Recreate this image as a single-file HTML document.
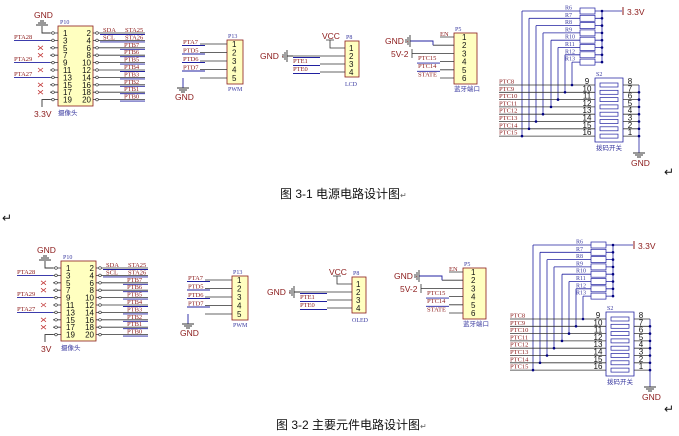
<!DOCTYPE html>
<html><head><meta charset="utf-8"><style>
html,body{margin:0;padding:0;background:#fff;width:679px;height:436px;overflow:hidden}
svg{display:block}
.s{font-family:"Liberation Serif",serif;font-size:6.5px;fill:#8b1a1a}
.n{font-family:"Liberation Sans",sans-serif;font-size:8px;fill:#111}
.d{font-family:"Liberation Serif",serif;font-size:6px;fill:#3a3aa0}
.r{font-family:"Liberation Sans",sans-serif;font-size:8.5px;fill:#8b1a1a}
.c{font-family:"Liberation Sans","Noto Sans CJK SC",sans-serif;font-size:6.5px;fill:#3a3aa0}
.cap{font-family:"Liberation Sans","Noto Sans CJK SC",sans-serif;font-size:12px;fill:#111}
</style></head><body>
<svg width="679" height="436" viewBox="0 0 679 436" xmlns="http://www.w3.org/2000/svg">
<defs>
<g id="p10g" fill="none">
<rect x="58" y="26" width="35" height="80" fill="#ffffc0" stroke="#8b1a1a" stroke-width="0.8"/>
<path stroke="#333" stroke-width="0.8" d="M50 33H58M50 40.4H58M50 47.8H58M50 55.2H58M50 62.6H58M50 70H58M50 77.4H58M50 84.8H58M50 92.2H58M50 99.6H58M93 33H145M93 40.4H145M93 47.8H145M93 55.2H145M93 62.6H145M93 70H145M93 77.4H145M93 84.8H145M93 92.2H145M93 99.6H145"/>
<path stroke="#2020a0" stroke-width="0.9" d="M14 40.4H50M14 62.6H50M14 77.4H50M100 34.5H145M100 41.9H145M120 49.3H145M120 56.7H145M120 64.1H145M120 71.5H145M120 78.9H145M120 86.3H145M120 93.7H145M120 101.1H145"/>
<path stroke="#333" stroke-width="0.9" d="M42 26V33H50M50 99.6H42V107M36 25H48M38 23H46M40 21H44"/>
<path stroke="#c03030" stroke-width="0.7" d="M38 45.8l5 4M43 45.8l-5 4M38 53.2l5 4M43 53.2l-5 4M38 68l5 4M43 68l-5 4M38 82.8l5 4M43 82.8l-5 4M38 90.2l5 4M43 90.2l-5 4"/>
<g stroke="#333" stroke-width="0.6" fill="#fff"><circle cx="53" cy="33" r="1.3"/><circle cx="53" cy="40.4" r="1.3"/><circle cx="53" cy="47.8" r="1.3"/><circle cx="53" cy="55.2" r="1.3"/><circle cx="53" cy="62.6" r="1.3"/><circle cx="53" cy="70" r="1.3"/><circle cx="53" cy="77.4" r="1.3"/><circle cx="53" cy="84.8" r="1.3"/><circle cx="53" cy="92.2" r="1.3"/><circle cx="53" cy="99.6" r="1.3"/><circle cx="97" cy="33" r="1.3"/><circle cx="97" cy="40.4" r="1.3"/><circle cx="97" cy="47.8" r="1.3"/><circle cx="97" cy="55.2" r="1.3"/><circle cx="97" cy="62.6" r="1.3"/><circle cx="97" cy="70" r="1.3"/><circle cx="97" cy="77.4" r="1.3"/><circle cx="97" cy="84.8" r="1.3"/><circle cx="97" cy="92.2" r="1.3"/><circle cx="97" cy="99.6" r="1.3"/></g>
</g>
<g id="p13g" fill="none">
<rect x="227" y="40" width="16" height="44" fill="#ffffc0" stroke="#8b1a1a" stroke-width="0.8"/>
<path stroke="#333" stroke-width="0.8" d="M200 44H227M200 52.5H227M200 61H227M200 69.5H227M200 78H227"/>
<path stroke="#2020a0" stroke-width="0.9" d="M182 45.5H205M182 54H205M182 62.5H205M182 71H205M183 78V88"/>
<path stroke="#333" stroke-width="0.9" d="M177 88H189M179 90H187M181 92H185"/>
</g>
<g id="p8g" fill="none">
<rect x="345" y="41" width="14" height="36" fill="#ffffc0" stroke="#8b1a1a" stroke-width="0.8"/>
<path stroke="#333" stroke-width="0.8" d="M330 40V48H345M293 56H345M320 64H345M320 72H345M326 40H334"/>
<path stroke="#2020a0" stroke-width="0.9" d="M293 57.5H320M293 65.5H320M293 73.5H320"/>
<path stroke="#333" stroke-width="0.9" d="M283 54V58M285 52V60M287 50V62M287 56H293"/>
</g>
<g id="p5g" fill="none">
<rect x="454" y="33" width="23" height="51" fill="#ffffc0" stroke="#8b1a1a" stroke-width="0.8"/>
<path stroke="#333" stroke-width="0.8" d="M440 37H454M433 45.2H454M412 53.4H454M440 61.6H454M440 69.8H454M440 78H454M412 49V58"/>
<path stroke="#2020a0" stroke-width="0.9" d="M410 41H433V45.2M417 63.1H440M417 71.3H440"/>
<path stroke="#333" stroke-width="0.9" d="M406 39V43M408 37V45M410 35V47"/>
</g>
<g id="rg" fill="none">
<path stroke="#2020a0" stroke-width="0.8" d="M522 11H580M529 18.3H580M536 25.6H580M543 32.9H580M551 40.2H580M558 47.5H580M565 54.8H580M572 62.1H580M522 11V136.1M529 18.3V128.8M536 25.6V121.5M543 32.9V114.2M551 40.2V106.9M558 47.5V99.6M565 54.8V92.3M572 62.1V85M595 11H602M595 18.3H602M595 25.6H602M595 32.9H602M595 40.2H602M595 47.5H602M595 54.8H602M595 62.1H602M602 11V62.1M602 11H622M595 78h28v64h-28z"/>
<path stroke="#8b1a1a" stroke-width="1" d="M623 7V15"/>
<g stroke="#2020a0" stroke-width="0.7" fill="#fff"><rect x="580" y="8" width="15" height="6"/><rect x="580" y="15.3" width="15" height="6"/><rect x="580" y="22.6" width="15" height="6"/><rect x="580" y="29.9" width="15" height="6"/><rect x="580" y="37.2" width="15" height="6"/><rect x="580" y="44.5" width="15" height="6"/><rect x="580" y="51.8" width="15" height="6"/><rect x="580" y="59.1" width="15" height="6"/>
<rect x="600" y="83" width="18" height="4"/><rect x="600" y="90.3" width="18" height="4"/><rect x="600" y="97.6" width="18" height="4"/><rect x="600" y="104.9" width="18" height="4"/><rect x="600" y="112.2" width="18" height="4"/><rect x="600" y="119.5" width="18" height="4"/><rect x="600" y="126.8" width="18" height="4"/><rect x="600" y="134.1" width="18" height="4"/></g>
<path stroke="#333" stroke-width="0.8" d="M499 85H595M499 92.3H595M499 99.6H595M499 106.9H595M499 114.2H595M499 121.5H595M499 128.8H595M499 136.1H595M623 85H639M623 92.3H639M623 99.6H639M623 106.9H639M623 114.2H639M623 121.5H639M623 128.8H639M623 136.1H639"/>
<path stroke="#2020a0" stroke-width="0.8" d="M639 85V153"/>
<path stroke="#333" stroke-width="0.9" d="M633 153H645M635 155H643M637 157H641"/>
<g fill="#000080"><circle cx="602" cy="11" r="1.3"/><circle cx="602" cy="18.3" r="1.3"/><circle cx="602" cy="25.6" r="1.3"/><circle cx="602" cy="32.9" r="1.3"/><circle cx="602" cy="40.2" r="1.3"/><circle cx="602" cy="47.5" r="1.3"/><circle cx="602" cy="54.8" r="1.3"/><circle cx="602" cy="62.1" r="1.3"/>
<circle cx="522" cy="136.1" r="1.3"/><circle cx="529" cy="128.8" r="1.3"/><circle cx="536" cy="121.5" r="1.3"/><circle cx="543" cy="114.2" r="1.3"/><circle cx="551" cy="106.9" r="1.3"/><circle cx="558" cy="99.6" r="1.3"/><circle cx="565" cy="92.3" r="1.3"/><circle cx="572" cy="85" r="1.3"/>
<circle cx="639" cy="92.3" r="1.3"/><circle cx="639" cy="99.6" r="1.3"/><circle cx="639" cy="106.9" r="1.3"/><circle cx="639" cy="114.2" r="1.3"/><circle cx="639" cy="121.5" r="1.3"/><circle cx="639" cy="128.8" r="1.3"/><circle cx="639" cy="136.1" r="1.3"/></g>
</g>
</defs>

<!-- TOP -->
<use href="#p10g"/><use href="#p13g"/><use href="#p8g"/><use href="#p5g"/><use href="#rg"/>
<g>
<text class="r" x="34" y="18">GND</text><text class="d" x="60" y="24">P10</text>
<text class="r" x="34" y="117">3.3V</text><text class="c" x="58" y="115">摄像头</text>
<text class="s" x="14" y="39">PTA28</text><text class="s" x="14" y="61">PTA29</text><text class="s" x="14" y="76">PTA27</text>
<g class="n"><text x="63" y="36">1</text><text x="63" y="43.4">3</text><text x="63" y="50.8">5</text><text x="63" y="58.2">7</text><text x="63" y="65.6">9</text><text x="63" y="73">11</text><text x="63" y="80.4">13</text><text x="63" y="87.8">15</text><text x="63" y="95.2">17</text><text x="63" y="102.6">19</text></g>
<g class="n" text-anchor="end"><text x="91" y="36">2</text><text x="91" y="43.4">4</text><text x="91" y="50.8">6</text><text x="91" y="58.2">8</text><text x="91" y="65.6">10</text><text x="91" y="73">12</text><text x="91" y="80.4">14</text><text x="91" y="87.8">16</text><text x="91" y="95.2">18</text><text x="91" y="102.6">20</text></g>
<g class="s"><text x="103" y="32">SDA</text><text x="125" y="32">STA25</text><text x="103" y="39.4">SCL</text><text x="125" y="39.4">STA26</text><text x="124" y="46.8">PTB7</text><text x="124" y="54.2">PTB6</text><text x="124" y="61.6">PTB5</text><text x="124" y="69">PTB4</text><text x="124" y="76.4">PTB3</text><text x="124" y="83.8">PTB2</text><text x="124" y="91.2">PTB1</text><text x="124" y="98.6">PTB0</text></g>
<text class="d" x="228" y="38">P13</text><text class="d" x="228" y="91">PWM</text><text class="r" x="175" y="100">GND</text>
<g class="s"><text x="183" y="44">PTA7</text><text x="183" y="52.5">PTD5</text><text x="183" y="61">PTD6</text><text x="183" y="69.5">PTD7</text></g>
<g class="n"><text x="232" y="47">1</text><text x="232" y="55.5">2</text><text x="232" y="64">3</text><text x="232" y="72.5">4</text><text x="232" y="81">5</text></g>
<text class="d" x="346" y="39">P8</text><text class="d" x="345" y="86">LCD</text><text class="r" x="322" y="39">VCC</text><text class="r" x="260" y="59">GND ·</text>
<g class="s"><text x="293" y="63">PTE1</text><text x="293" y="71">PTE0</text></g>
<g class="n"><text x="349" y="51">1</text><text x="349" y="59">2</text><text x="349" y="67">3</text><text x="349" y="75">4</text></g>
<text class="d" x="455" y="31">P5</text><text class="c" x="454" y="91">蓝牙端口</text><text class="r" x="385" y="44">GND ·</text><text class="r" x="391" y="57">5V-2</text>
<g class="s"><text x="440" y="36">EN</text><text x="418" y="60">PTC15</text><text x="418" y="68.2">PTC14</text><text x="418" y="76.4">STATE</text></g>
<g class="n"><text x="462" y="40">1</text><text x="462" y="48.2">2</text><text x="462" y="56.4">3</text><text x="462" y="64.6">4</text><text x="462" y="72.8">5</text><text x="462" y="81">6</text></g>
<g class="d"><text x="565" y="9.5">R6</text><text x="565" y="16.8">R7</text><text x="565" y="24.1">R8</text><text x="565" y="31.4">R9</text><text x="565" y="38.7">R10</text><text x="565" y="46">R11</text><text x="565" y="53.3">R12</text><text x="565" y="60.6">R13</text><text x="596" y="76">S2</text></g>
<text class="r" x="627" y="15">3.3V</text><text class="r" x="631" y="166">GND</text><text class="c" x="596" y="150">拨码开关</text>
<g class="s"><text x="499" y="83.5">PTC8</text><text x="499" y="90.8">PTC9</text><text x="499" y="98.1">PTC10</text><text x="499" y="105.4">PTC11</text><text x="499" y="112.7">PTC12</text><text x="499" y="120">PTC13</text><text x="499" y="127.3">PTC14</text><text x="499" y="134.6">PTC15</text></g>
<g class="n" text-anchor="middle"><text x="587" y="84">9</text><text x="587" y="91.3">10</text><text x="587" y="98.6">11</text><text x="587" y="105.9">12</text><text x="587" y="113.2">13</text><text x="587" y="120.5">14</text><text x="587" y="127.8">15</text><text x="587" y="135.1">16</text>
<text x="630" y="84">8</text><text x="630" y="91.3">7</text><text x="630" y="98.6">6</text><text x="630" y="105.9">5</text><text x="630" y="113.2">4</text><text x="630" y="120.5">3</text><text x="630" y="127.8">2</text><text x="630" y="135.1">1</text></g>
</g>
<text class="cap" x="280" y="198">图 3-1 电源电路设计图<tspan font-size="8" fill="#666">↵</tspan></text>
<text class="cap" x="2" y="222" font-size="8" fill="#666">↵</text>
<text class="cap" x="664" y="176" font-size="8" fill="#666">↵</text>

<!-- BOTTOM -->
<g transform="translate(3,235)"><use href="#p10g"/>
<text class="r" x="34" y="18">GND</text><text class="d" x="60" y="24">P10</text>
<text class="r" x="38" y="117">3V</text><text class="c" x="58" y="115">摄像头</text>
<text class="s" x="14" y="39">PTA28</text><text class="s" x="14" y="61">PTA29</text><text class="s" x="14" y="76">PTA27</text>
<g class="n"><text x="63" y="36">1</text><text x="63" y="43.4">3</text><text x="63" y="50.8">5</text><text x="63" y="58.2">7</text><text x="63" y="65.6">9</text><text x="63" y="73">11</text><text x="63" y="80.4">13</text><text x="63" y="87.8">15</text><text x="63" y="95.2">17</text><text x="63" y="102.6">19</text></g>
<g class="n" text-anchor="end"><text x="91" y="36">2</text><text x="91" y="43.4">4</text><text x="91" y="50.8">6</text><text x="91" y="58.2">8</text><text x="91" y="65.6">10</text><text x="91" y="73">12</text><text x="91" y="80.4">14</text><text x="91" y="87.8">16</text><text x="91" y="95.2">18</text><text x="91" y="102.6">20</text></g>
<g class="s"><text x="103" y="32">SDA</text><text x="125" y="32">STA25</text><text x="103" y="39.4">SCL</text><text x="125" y="39.4">STA26</text><text x="124" y="46.8">PTB7</text><text x="124" y="54.2">PTB6</text><text x="124" y="61.6">PTB5</text><text x="124" y="69">PTB4</text><text x="124" y="76.4">PTB3</text><text x="124" y="83.8">PTB2</text><text x="124" y="91.2">PTB1</text><text x="124" y="98.6">PTB0</text></g>
</g>
<g transform="translate(5,236)"><use href="#p13g"/>
<text class="d" x="228" y="38">P13</text><text class="d" x="228" y="91">PWM</text><text class="r" x="175" y="100">GND</text>
<g class="s"><text x="183" y="44">PTA7</text><text x="183" y="52.5">PTD5</text><text x="183" y="61">PTD6</text><text x="183" y="69.5">PTD7</text></g>
<g class="n"><text x="232" y="47">1</text><text x="232" y="55.5">2</text><text x="232" y="64">3</text><text x="232" y="72.5">4</text><text x="232" y="81">5</text></g>
</g>
<g transform="translate(7,236)"><use href="#p8g"/>
<text class="d" x="346" y="39">P8</text><text class="d" x="345" y="86">OLED</text><text class="r" x="322" y="39">VCC</text><text class="r" x="260" y="59">GND ·</text>
<g class="s"><text x="293" y="63">PTE1</text><text x="293" y="71">PTE0</text></g>
<g class="n"><text x="349" y="51">1</text><text x="349" y="59">2</text><text x="349" y="67">3</text><text x="349" y="75">4</text></g>
</g>
<g transform="translate(9,235)"><use href="#p5g"/>
<text class="d" x="455" y="31">P5</text><text class="c" x="454" y="91">蓝牙端口</text><text class="r" x="385" y="44">GND ·</text><text class="r" x="391" y="57">5V-2</text>
<g class="s"><text x="440" y="36">EN</text><text x="418" y="60">PTC15</text><text x="418" y="68.2">PTC14</text><text x="418" y="76.4">STATE</text></g>
<g class="n"><text x="462" y="40">1</text><text x="462" y="48.2">2</text><text x="462" y="56.4">3</text><text x="462" y="64.6">4</text><text x="462" y="72.8">5</text><text x="462" y="81">6</text></g>
</g>
<g transform="translate(11,234)"><use href="#rg"/>
<g class="d"><text x="565" y="9.5">R6</text><text x="565" y="16.8">R7</text><text x="565" y="24.1">R8</text><text x="565" y="31.4">R9</text><text x="565" y="38.7">R10</text><text x="565" y="46">R11</text><text x="565" y="53.3">R12</text><text x="565" y="60.6">R13</text><text x="596" y="76">S2</text></g>
<text class="r" x="627" y="15">3.3V</text><text class="r" x="631" y="166">GND</text><text class="c" x="596" y="150">拨码开关</text>
<g class="s"><text x="499" y="83.5">PTC8</text><text x="499" y="90.8">PTC9</text><text x="499" y="98.1">PTC10</text><text x="499" y="105.4">PTC11</text><text x="499" y="112.7">PTC12</text><text x="499" y="120">PTC13</text><text x="499" y="127.3">PTC14</text><text x="499" y="134.6">PTC15</text></g>
<g class="n" text-anchor="middle"><text x="587" y="84">9</text><text x="587" y="91.3">10</text><text x="587" y="98.6">11</text><text x="587" y="105.9">12</text><text x="587" y="113.2">13</text><text x="587" y="120.5">14</text><text x="587" y="127.8">15</text><text x="587" y="135.1">16</text>
<text x="630" y="84">8</text><text x="630" y="91.3">7</text><text x="630" y="98.6">6</text><text x="630" y="105.9">5</text><text x="630" y="113.2">4</text><text x="630" y="120.5">3</text><text x="630" y="127.8">2</text><text x="630" y="135.1">1</text></g>
</g>
<text class="cap" x="276" y="429">图 3-2 主要元件电路设计图<tspan font-size="8" fill="#666">↵</tspan></text>
<text class="cap" x="664" y="413" font-size="8" fill="#666">↵</text>
</svg>
</body></html>
